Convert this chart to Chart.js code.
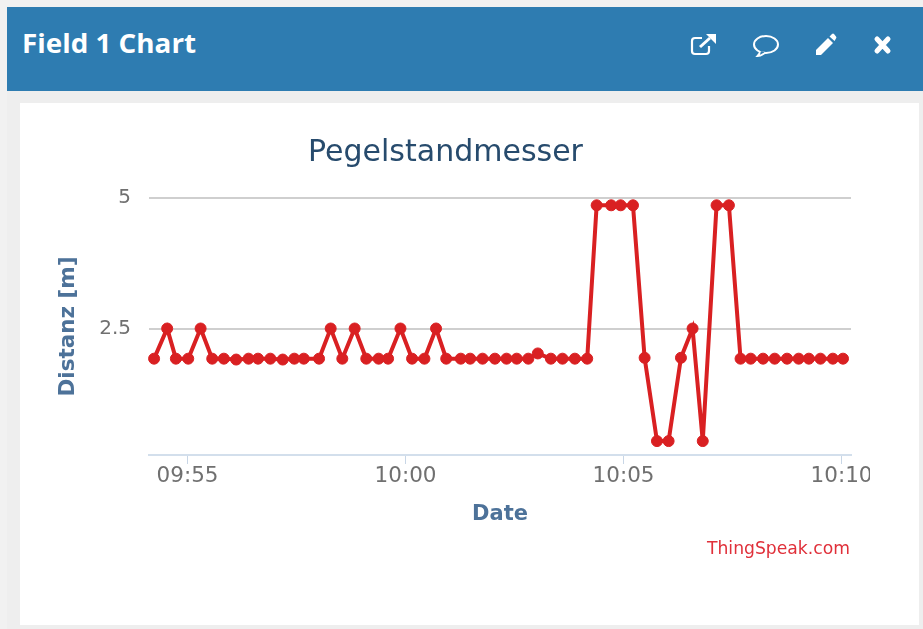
<!DOCTYPE html>
<html>
<head>
<meta charset="utf-8">
<script src="https://cdn.jsdelivr.net/npm/chart.js@4"></script>
<style>
html,body{margin:0;padding:0;width:923px;height:629px;overflow:hidden;background:#f1f1f1;}
#frame{position:absolute;left:7px;top:7px;width:916px;height:622px;background:#eeeeee;}
#head{position:absolute;left:7px;top:7px;width:916px;height:84px;background:#2e7cb1;}
#headtitle{position:absolute;left:22px;top:26px;font:bold 27px "Open Sans",sans-serif;color:#fff;line-height:34px;white-space:nowrap;transform-origin:0 50%;transform:scaleX(1.03);}
#panel{position:absolute;left:20px;top:103px;width:899px;height:522px;background:#fff;}
#chartbox{position:absolute;left:20px;top:103px;width:850px;height:522px;overflow:hidden;}
#credit{position:absolute;right:73px;top:538px;font:17.2px "DejaVu Sans",sans-serif;color:#e0303a;white-space:nowrap;line-height:20px;}
svg.ic{position:absolute;}
</style>
</head>
<body>
<div id="frame"></div>
<div id="head"></div>
<div id="headtitle">Field 1 Chart</div>
<svg class="ic" style="left:690px;top:32px" width="28" height="24" viewBox="0 0 28 24"><path d="M12 6H5a3 3 0 0 0-3 3v10a3 3 0 0 0 3 3h11a3 3 0 0 0 3-3v-5" fill="none" stroke="#fff" stroke-width="2.2"/><path d="M10 15 20 6" stroke="#fff" stroke-width="3" fill="none"/><path d="M16 2h10v10z" fill="#fff"/></svg>
<svg class="ic" style="left:752px;top:34px" width="28" height="24" viewBox="0 0 28 24"><ellipse cx="14" cy="10.500" rx="12" ry="8.500" fill="none" stroke="#fff" stroke-width="2"/><path d="M8 17c0 2-1 3.500-2.500 5 3.500 0 6-2 8-3.500" fill="#2e7cb1" stroke="#fff" stroke-width="1.800"/></svg>
<svg class="ic" style="left:814px;top:32px" width="24" height="25" viewBox="0 0 24 25"><path d="M2 18 14 6l5 5L7 23H2z" fill="#fff"/><path d="M15.500 4.500 18 2a1.500 1.500 0 0 1 2 0l2 2.500a1.500 1.500 0 0 1 0 2L20.500 9z" fill="#fff"/></svg>
<svg class="ic" style="left:873px;top:35px" width="19" height="20" viewBox="0 0 19 20"><path d="M4 4 15 16M15 4 4 16" stroke="#fff" stroke-width="5" stroke-linecap="round"/></svg>
<div id="panel"></div>
<div id="chartbox"><canvas id="c" width="851" height="522"></canvas></div>
<div id="credit">ThingSpeak.com</div>
<script>
const chartTitle = "Pegelstandmesser";
const xTitle = "Date";
const yTitle = "Distanz [m]";
const times = ["09:54:14","09:54:32","09:54:44","09:55:01","09:55:18","09:55:34","09:55:50","09:56:07","09:56:24","09:56:37","09:56:54","09:57:11","09:57:27","09:57:40","09:58:01","09:58:17","09:58:33","09:58:50","09:59:06","09:59:23","09:59:36","09:59:53","10:00:09","10:00:26","10:00:42","10:00:56","10:01:16","10:01:29","10:01:46","10:02:03","10:02:19","10:02:33","10:02:49","10:03:02","10:03:20","10:03:36","10:03:53","10:04:10","10:04:23","10:04:43","10:04:56","10:05:13","10:05:29","10:05:46","10:06:02","10:06:19","10:06:35","10:06:49","10:07:08","10:07:25","10:07:41","10:07:55","10:08:12","10:08:28","10:08:45","10:09:01","10:09:15","10:09:31","10:09:48","10:10:02"];
const distance = [2.13,2.5,2.13,2.13,2.5,2.13,2.13,2.12,2.13,2.13,2.13,2.12,2.13,2.13,2.13,2.5,2.13,2.5,2.13,2.13,2.13,2.5,2.13,2.13,2.5,2.13,2.13,2.13,2.13,2.13,2.13,2.13,2.13,2.19,2.13,2.13,2.13,2.13,4.81,4.81,4.81,4.81,2.14,1.375,1.375,2.14,2.5,1.375,4.81,4.81,2.13,2.13,2.13,2.13,2.13,2.13,2.13,2.13,2.13,2.13];
const xTicks = ["09:55","10:00","10:05","10:10"];
const yTicks = [2.5,5];
const xRange = ["09:54:07","10:10:13"];
const yRange = [1.277,5];

const toSec = s => { const p = s.split(":").map(Number); return p[0]*3600 + p[1]*60 + (p[2]||0); };
const fmt = v => { const h = Math.floor(v/3600), m = Math.round((v-h*3600)/60); return String(h).padStart(2,"0")+":"+String(m).padStart(2,"0"); };
const red = "#d92022";

new Chart(document.getElementById("c"), {
  type: "line",
  data: { datasets: [{
    data: times.map((t,i)=>({x:toSec(t), y:distance[i]})),
    borderColor: red, backgroundColor: red, pointBackgroundColor: red, pointBorderColor: red,
    borderWidth: 4, pointRadius: 5.5, pointBorderWidth: 1, tension: 0, clip: false
  }]},
  options: {
    responsive: false, animation: false, devicePixelRatio: 1,
    layout: { padding: { left: 20, right: 20, top: 0, bottom: 98 } },
    plugins: {
      legend: { display: false }, tooltip: { enabled: false },
      title: { display: true, text: chartTitle, color: "#274b6d",
        font: { family: "'DejaVu Sans'", size: 30, weight: "normal", lineHeight: 1.2 },
        padding: { top: 32, bottom: 27 } }
    },
    scales: {
      x: {
        type: "linear", min: toSec(xRange[0]), max: toSec(xRange[1]),
        afterBuildTicks: s => { s.ticks = xTicks.map(t=>({value:toSec(t)})); },
        afterFit: s => { s.paddingLeft = 0; s.paddingRight = 0; s.height = 72; },
        grid: { drawOnChartArea: false, drawTicks: true, tickLength: 9, tickColor: "#c8d6e6", tickWidth: 1 },
        border: { color: "#d3dfec", width: 2 },
        ticks: { autoSkip: false, maxRotation: 0, minRotation: 0, padding: 0, color: "#707070",
          font: { family: "'DejaVu Sans'", size: 21.5 }, callback: v => fmt(v) },
        title: { display: true, text: xTitle, color: "#4d7299",
          font: { family: "'DejaVu Sans'", size: 21, weight: "bold", lineHeight: 1.2 }, padding: 0 }
      },
      y: {
        type: "logarithmic", min: yRange[0], max: yRange[1],
        afterBuildTicks: s => { s.ticks = yTicks.map(v=>({value:v})); },
        afterFit: s => { s.paddingTop = 0; s.paddingBottom = 0; s.width = 109; },
        grid: { drawTicks: false, color: "#cfcfcf", lineWidth: 2 },
        border: { display: false },
        ticks: { padding: 18, color: "#707070", autoSkip: false,
          font: { family: "'DejaVu Sans'", size: 20 }, callback: v => String(v) },
        title: { display: true, text: yTitle, color: "#4d7299",
          font: { family: "'DejaVu Sans'", size: 21.5, weight: "bold", lineHeight: 1.2 }, padding: 16 }
      }
    }
  }
});
</script>
</body>
</html>
